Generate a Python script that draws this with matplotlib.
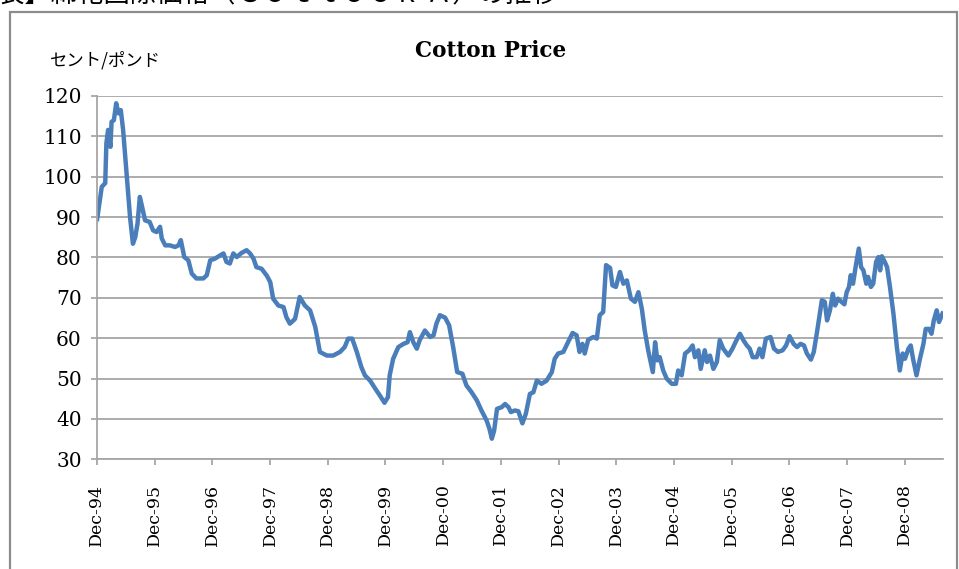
import matplotlib
matplotlib.use("Agg")
import matplotlib.pyplot as plt
from matplotlib.patches import Rectangle

# ------------------------------
# Data (decimal years / cents per pound)
# ------------------------------
YEARS = [
    1994.92, 1995.00, 1995.06, 1995.08, 1995.11, 1995.15, 1995.17, 1995.21, 1995.25, 1995.29,
    1995.33, 1995.37, 1995.43, 1995.49, 1995.54, 1995.58, 1995.62, 1995.66, 1995.70, 1995.75,
    1995.83, 1995.89, 1995.95, 1996.01, 1996.04, 1996.10, 1996.18, 1996.27, 1996.33, 1996.37,
    1996.43, 1996.50, 1996.56, 1996.64, 1996.76, 1996.82, 1996.88, 1996.96, 1997.05, 1997.11,
    1997.16, 1997.22, 1997.28, 1997.34, 1997.42, 1997.51, 1997.57, 1997.63, 1997.68, 1997.77,
    1997.86, 1997.92, 1997.97, 1998.06, 1998.15, 1998.20, 1998.26, 1998.35, 1998.43, 1998.52,
    1998.61, 1998.70, 1998.78, 1998.90, 1999.01, 1999.13, 1999.21, 1999.27, 1999.34, 1999.42,
    1999.50, 1999.56, 1999.65, 1999.74, 1999.82, 1999.90, 1999.96, 1999.99, 2000.05, 2000.14,
    2000.23, 2000.30, 2000.34, 2000.40, 2000.46, 2000.51, 2000.60, 2000.69, 2000.75, 2000.80,
    2000.86, 2000.95, 2001.02, 2001.09, 2001.16, 2001.25, 2001.32, 2001.41, 2001.50, 2001.58,
    2001.67, 2001.72, 2001.76, 2001.80, 2001.85, 2001.93, 2001.99, 2002.05, 2002.09, 2002.16,
    2002.22, 2002.29, 2002.35, 2002.42, 2002.48, 2002.54, 2002.62, 2002.71, 2002.80, 2002.85,
    2002.91, 2003.00, 2003.08, 2003.16, 2003.23, 2003.28, 2003.33, 2003.37, 2003.43, 2003.52,
    2003.58, 2003.63, 2003.69, 2003.74, 2003.81, 2003.85, 2003.91, 2003.98, 2004.04, 2004.10,
    2004.17, 2004.24, 2004.30, 2004.36, 2004.41, 2004.47, 2004.55, 2004.59, 2004.63, 2004.67,
    2004.73, 2004.79, 2004.88, 2004.95, 2004.99, 2005.05, 2005.11, 2005.18, 2005.24, 2005.28,
    2005.34, 2005.38, 2005.45, 2005.49, 2005.54, 2005.60, 2005.66, 2005.71, 2005.77, 2005.86,
    2005.93, 2006.00, 2006.06, 2006.12, 2006.18, 2006.23, 2006.28, 2006.35, 2006.40, 2006.45,
    2006.51, 2006.59, 2006.65, 2006.72, 2006.80, 2006.86, 2006.92, 2006.99, 2007.05, 2007.11,
    2007.17, 2007.22, 2007.29, 2007.34, 2007.40, 2007.48, 2007.53, 2007.57, 2007.62, 2007.67,
    2007.71, 2007.76, 2007.82, 2007.87, 2007.91, 2007.95, 2007.98, 2008.02, 2008.07, 2008.12,
    2008.16, 2008.20, 2008.25, 2008.28, 2008.33, 2008.37, 2008.42, 2008.46, 2008.49, 2008.52,
    2008.57, 2008.61, 2008.66, 2008.72, 2008.78, 2008.83, 2008.88, 2008.92, 2008.98, 2009.02,
    2009.06, 2009.12, 2009.18, 2009.24, 2009.28, 2009.34, 2009.38, 2009.42, 2009.47, 2009.51,
    2009.57,
]
PRICES = [
    89.5, 97.5, 98.4, 108.3, 111.6, 107.4, 113.6, 114.0, 118.2, 115.7,
    116.5, 111.6, 100.8, 90.0, 83.4, 85.0, 88.4, 95.0, 92.5, 89.2,
    88.8, 86.7, 86.3, 87.6, 84.7, 83.0, 83.0, 82.6, 83.0, 84.3,
    80.1, 79.3, 76.0, 74.8, 74.8, 75.6, 79.3, 79.7, 80.5, 81.0,
    78.9, 78.5, 81.0, 80.1, 81.1, 81.8, 81.0, 79.7, 77.6, 77.2,
    75.5, 73.9, 69.8, 68.1, 67.7, 65.2, 63.6, 64.8, 70.2, 68.1,
    66.9, 62.8, 56.6, 55.7, 55.7, 56.6, 57.8, 59.9, 59.9, 56.6,
    52.8, 50.8, 49.5, 47.5, 45.8, 44.0, 45.4, 50.8, 54.9, 57.8,
    58.6, 59.0, 61.5, 59.0, 57.4, 59.5, 61.9, 60.3, 60.7, 63.6,
    65.7, 65.1, 63.2, 57.8, 51.6, 51.2, 48.3, 46.6, 44.6, 42.1,
    39.6, 37.5, 35.1, 37.1, 42.5, 42.9, 43.7, 42.9, 41.7, 42.1,
    41.9, 38.9, 41.3, 46.2, 46.6, 49.5, 48.7, 49.5, 51.6, 54.9,
    56.2, 56.6, 59.0, 61.3, 60.7, 56.6, 58.6, 56.2, 59.6, 60.3,
    59.9, 65.7, 66.5, 78.1, 77.4, 73.1, 72.7, 76.4, 73.5, 74.3,
    69.8, 69.0, 71.4, 67.3, 61.9, 57.0, 51.6, 59.0, 54.5, 55.3,
    52.0, 50.0, 48.7, 48.7, 52.0, 50.8, 56.2, 57.0, 58.2, 55.3,
    57.0, 52.4, 57.0, 54.1, 55.7, 52.4, 54.1, 59.5, 57.4, 55.7,
    57.4, 59.5, 61.1, 59.5, 58.2, 57.4, 55.3, 55.3, 57.4, 55.3,
    59.9, 60.3, 57.4, 56.6, 57.0, 58.2, 60.5, 58.6, 57.8, 58.6,
    58.2, 56.2, 54.7, 56.6, 61.9, 69.4, 69.0, 64.4, 66.9, 71.0,
    68.1, 69.8, 69.0, 68.4, 71.4, 72.7, 75.6, 73.5, 78.1, 82.2,
    77.6, 76.8, 73.5, 75.2, 72.7, 73.5, 78.9, 80.1, 76.8, 80.3,
    78.9, 77.6, 72.7, 66.1, 57.8, 52.0, 56.2, 54.9, 57.4, 58.2,
    54.9, 50.8, 54.9, 58.6, 62.3, 62.3, 61.1, 64.4, 66.9, 64.0,
    66.1,
]
TICK_YEARS = [1994, 1995, 1996, 1997, 1998, 1999, 2000, 2001, 2002, 2003, 2004, 2005, 2006, 2007, 2008]
TICK_LABELS = [f"Dec-{y % 100:02d}" for y in TICK_YEARS]
Y_TICKS = [30, 40, 50, 60, 70, 80, 90, 100, 110, 120]

TITLE = "Cotton Price"
Y_UNIT = "セント/ポンド"
HEADER = "表】綿花国際価格（Ｃｏｔｌｏｏｋ Ａ）の推移"

LINE_COLOR = "#4a7ebb"
GRID_COLOR = "#a6a6a6"


def main():
    plt.rcParams["font.family"] = ["DejaVu Serif", "Noto Sans CJK JP"]

    fig = plt.figure(figsize=(9.59, 5.69), dpi=100)
    ax = fig.add_axes([0.1011, 0.1928, 0.8825, 0.6385])

    ax.plot(YEARS, PRICES, color=LINE_COLOR, lw=3.2, solid_joinstyle="round")

    ax.set_xlim(1994.917, 2009.584)
    ax.set_ylim(30, 120)
    ax.set_yticks(Y_TICKS)
    ax.set_xticks([y + 11 / 12 for y in TICK_YEARS])
    ax.set_xticklabels(TICK_LABELS, rotation=90, fontsize=12.5)
    ax.tick_params(axis="y", labelsize=14.5, length=4.5, width=1.3, color=GRID_COLOR, pad=6.5)
    ax.tick_params(axis="x", length=4.5, width=1.3, color=GRID_COLOR, pad=13)

    ax.grid(axis="y", color=GRID_COLOR, lw=1.3)
    ax.set_axisbelow(True)
    for side in ["top", "right"]:
        ax.spines[side].set_visible(False)
    for side in ["left", "bottom"]:
        ax.spines[side].set_color(GRID_COLOR)
        ax.spines[side].set_linewidth(1.3)

    # outer chart frame
    fig.patches.append(Rectangle((10 / 959, -0.05), 947 / 959, 1.05 - 12 / 569,
                                 transform=fig.transFigure, fill=False,
                                 edgecolor="#8c8c8c", lw=1.6))

    fig.text(491 / 959, 1 - 51 / 569, TITLE, ha="center", va="center",
             fontsize=15.5, fontweight="bold", family="DejaVu Serif")
    fig.text(50 / 959, 1 - 60 / 569, Y_UNIT, ha="left", va="center",
             fontsize=12.5, family=["Noto Sans CJK JP", "DejaVu Sans"])
    fig.text(-2 / 959, 1 - 8 / 569, HEADER, ha="left", va="bottom",
             fontsize=19, family=["Noto Sans CJK JP", "DejaVu Sans"])

    fig.savefig("out.png", dpi=100)
    plt.close(fig)


if __name__ == "__main__":
    main()
